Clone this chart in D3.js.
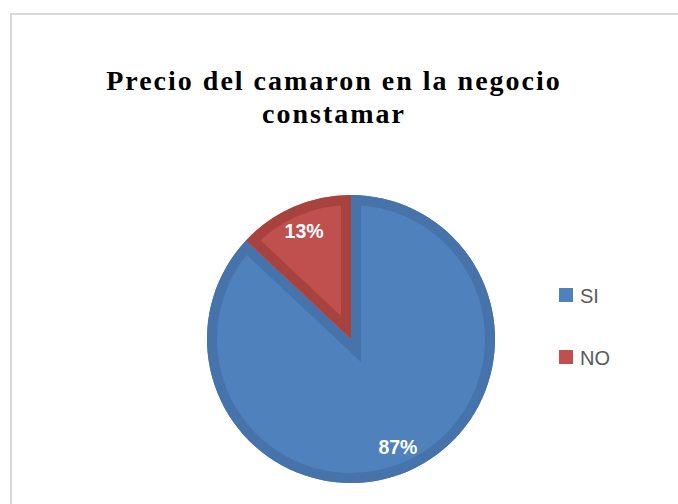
<!DOCTYPE html>
<html>
<head>
<meta charset="utf-8">
<script src="https://cdn.jsdelivr.net/npm/d3@7"></script>
<style>
  body { margin: 0; background: #fff; }
  svg { display: block; }
  .ttl { font-family: "Liberation Serif", "DejaVu Serif", serif; }
</style>
</head>
<body>
<svg id="chart" width="678" height="504"></svg>
<script>
// pie: Precio del camaron

const categories = ["SI", "NO"];
const values = [87, 13];
const titleLines = ["Precio del camaron en la negocio", "constamar"];

const fills = ["#4f81bd", "#c0504d"];
const edges = ["#4673aa", "#a8423f"];

const W = 678, H = 504;
const cx = 351, cy = 339, rad = 144;   // pie centre and radius
const edgeW = 10;                      // inner border of each slice

const svg = d3.select("#chart");

// chart area frame (only left / top are in the picture)
svg.append("rect").attr("x", 11).attr("y", 14)
   .attr("width", W + 20).attr("height", H + 20)
   .attr("fill", "none").attr("stroke", "#d9d9d9").attr("stroke-width", 2);

// title
svg.append("text").attr("class", "ttl").attr("x", 334).attr("y", 90)
   .attr("text-anchor", "middle")
   .attr("font-weight", "bold").attr("font-size", 28).attr("fill", "#000")
   .attr("letter-spacing", 2)
   .selectAll("tspan").data(titleLines).enter().append("tspan")
   .attr("x", 334).attr("dy", (d, i) => i == 0 ? 0 : 33)
   .text(d => d);

const pie = d3.pie().sort(null).value(d => d);
const arcs = pie(values);
const arc = d3.arc().innerRadius(0).outerRadius(rad);
const lblArc = d3.arc().innerRadius(rad * 0.82).outerRadius(rad * 0.82);

const g = svg.append("g").attr("transform", "translate(" + cx + "," + cy + ")");
const defs = svg.append("defs");

arcs.forEach(function (a, i) {
   defs.append("clipPath").attr("id", "clip" + i)
      .append("path").attr("d", arc(a));
   g.append("path").attr("d", arc(a)).attr("fill", fills[i]);
   g.append("path").attr("d", arc(a)).attr("fill", "none")
      .attr("stroke", edges[i]).attr("stroke-width", edgeW * 2)
      .attr("clip-path", "url(#clip" + i + ")");
});

g.selectAll("text.lbl").data(arcs).enter().append("text")
   .attr("class", "lbl")
   .attr("transform", d => "translate(" + lblArc.centroid(d) + ")")
   .attr("text-anchor", "middle").attr("dy", "0.36em")
   .attr("font-family", "Liberation Sans, Arial, sans-serif")
   .attr("font-weight", "bold").attr("font-size", 19.5).attr("fill", "#fff")
   .text(d => d.data + "%");

// legend
const lg = svg.append("g");
categories.forEach(function (c, i) {
   const y = 288 + i * 62;
   lg.append("rect").attr("x", 559).attr("y", y)
      .attr("width", 14).attr("height", 14).attr("fill", fills[i]);
   lg.append("text").attr("x", 580).attr("y", y + 15)
      .attr("font-family", "Liberation Sans, Arial, sans-serif")
      .attr("font-size", 20).attr("fill", "#595959")
      .text(c);
});
</script>
</body>
</html>
